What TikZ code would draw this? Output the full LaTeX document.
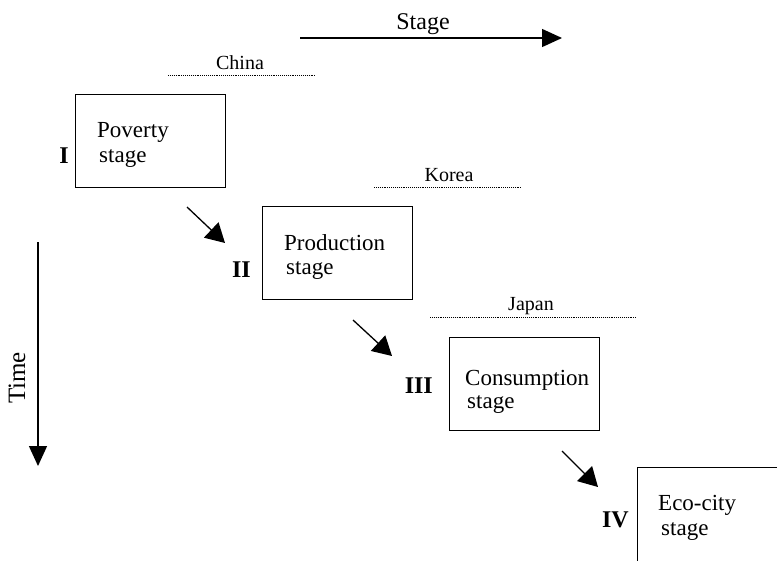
\documentclass[tikz,border=0pt]{standalone}
\usepackage{fontspec}
\setmainfont{Liberation Serif}
\usetikzlibrary{arrows.meta}
\begin{document}
\begin{tikzpicture}[x=1pt,y=-1pt,
  stagebox/.style={draw,line width=1.3pt,rectangle,minimum width=150pt,minimum height=93pt,inner sep=0pt,anchor=north west},
  boxtext/.style={font=\fontsize{23}{24}\selectfont,anchor=base west,inner sep=0pt},
  numeral/.style={font=\fontsize{24}{25}\selectfont\bfseries,anchor=base east,inner sep=0pt},
  country/.style={font=\fontsize{20}{22}\selectfont,anchor=base,inner sep=0pt},
  dotline/.style={line width=0.8pt,dash pattern=on 0.8pt off 1.1pt},
  bigarrow/.style={line width=1.4pt,-{Triangle[length=20pt,width=18pt]}},
  diagarrow/.style={line width=1.3pt,-{Triangle[length=19pt,width=21pt]}},
  axislabel/.style={font=\fontsize{24}{26}\selectfont,inner sep=0pt}]
\useasboundingbox (0,0) rectangle (777,560);
\clip (0,0) rectangle (777,560);

% Stage axis
\coordinate (stS) at (300,38);
\coordinate (stE) at (562,38);
\draw[bigarrow] (stS) -- (stE);
\node[axislabel,anchor=base] (stage) at (423,29) {Stage};

% Time axis
\coordinate (tmS) at (38,242);
\coordinate (tmE) at (38,466);
\draw[bigarrow] (tmS) -- (tmE);
\node[axislabel,rotate=90,font=\fontsize{25}{26}\selectfont] (time) at (17,378) {Time};

% Country labels
\node[country] (china) at (240,69) {China};
\coordinate (chA) at (168,75); \coordinate (chB) at (316,75);
\draw[dotline] (chA) -- (chB);
\node[country] (korea) at (449,181) {Korea};
\coordinate (koA) at (374,187); \coordinate (koB) at (522,187);
\draw[dotline] (koA) -- (koB);
\node[country] (japan) at (531,310) {Japan};
\coordinate (jpA) at (430,317); \coordinate (jpB) at (636,317);
\draw[dotline] (jpA) -- (jpB);

% Boxes
\node[stagebox] (b1) at (75,94) {};
\node[stagebox] (b2) at (262,206) {};
\node[stagebox] (b3) at (449,337) {};
\node[stagebox,minimum width=170pt,minimum height=110pt] (b4) at (637,467) {};

% Box texts
\node[boxtext] (t1a) at (97,137) {Poverty};
\node[boxtext] (t1b) at (99,162) {stage};
\node[boxtext] (t2a) at (284,250) {Production};
\node[boxtext] (t2b) at (286,274) {stage};
\node[boxtext] (t3a) at (465,385) {Consumption};
\node[boxtext] (t3b) at (467,408) {stage};
\node[boxtext] (t4a) at (658,510) {Eco-city};
\node[boxtext] (t4b) at (661,535) {stage};

% Numerals
\node[numeral] (n1) at (69,163) {I};
\node[numeral] (n2) at (251,277) {II};
\node[numeral] (n3) at (433,393) {III};
\node[numeral] (n4) at (629,527) {IV};

% Diagonal arrows
\coordinate (a1s) at (187,207); \coordinate (a1e) at (225,243);
\coordinate (a2s) at (353,320); \coordinate (a2e) at (392,356);
\coordinate (a3s) at (562,451); \coordinate (a3e) at (598,487);
\draw[diagarrow] (a1s) -- (a1e);
\draw[diagarrow] (a2s) -- (a2e);
\draw[diagarrow] (a3s) -- (a3e);
\end{tikzpicture}
\end{document}
